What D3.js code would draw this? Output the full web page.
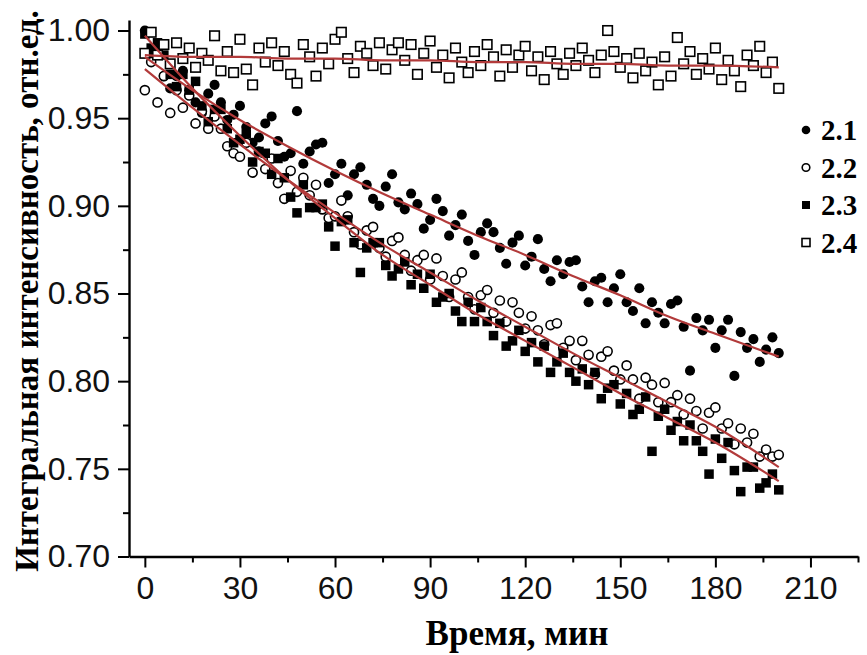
<!doctype html>
<html lang="ru">
<head>
    <meta charset="utf-8">
    <title>Integral intensity vs time</title>
    <script src="https://d3js.org/d3.v7.min.js"></script>
    <style>
        body { margin: 0; background: #fff; }
        .tick text { font-family: "Liberation Sans", Arial, sans-serif; }
    </style>
</head>
<body>
<script>
    // --- Data ---
    const times = [0, 2, 4, 6, 8, 10, 12, 14, 16, 18, 20, 22, 24, 26, 28, 30, 32, 34, 36, 38,
        40, 42, 44, 46, 48, 50, 52, 54, 56, 58, 60, 62, 64, 66, 68, 70, 72, 74, 76, 78,
        80, 82, 84, 86, 88, 90, 92, 94, 96, 98, 100, 102, 104, 106, 108, 110, 112, 114, 116, 118,
        120, 122, 124, 126, 128, 130, 132, 134, 136, 138, 140, 142, 144, 146, 148, 150, 152, 154, 156, 158,
        160, 162, 164, 166, 168, 170, 172, 174, 176, 178, 180, 182, 184, 186, 188, 190, 192, 194, 196, 198, 200];

    const s21 = [1.000, .987, .989, .974, .967, .974, .977, .966, .959, .953,
        .964, .969, .959, .949, .952, .957, .945, .936, .939, .947,
        .951, .937, .928, .930, .954, .924, .931, .935, .936, .913,
        .918, .924, .906, .918, .922, .912, .904, .900, .911, .918,
        .902, .898, .907, .901, .887, .892, .904, .897, .883, .889,
        .895, .880, .872, .885, .890, .885, .876, .867, .879, .883,
        .866, .871, .881, .864, .857, .869, .861, .868, .869, .854,
        .845, .857, .859, .845, .853, .861, .845, .840, .853, .833,
        .845, .839, .833, .844, .846, .831, .806, .836, .829, .835,
        .819, .829, .835, .803, .828, .819, .824, .811, .818, .825, .816];

    const s22 = [.966, .982, .959, .974, .953, .966, .956, .963, .947, .954,
        .944, .951, .944, .934, .930, .928, .936, .919, .931, .921,
        .927, .913, .904, .920, .908, .916, .906, .912, .898, .893,
        .894, .903, .894, .885, .878, .886, .888, .876, .871, .880,
        .882, .872, .863, .869, .872, .858, .870, .860, .848, .858,
        .862, .848, .841, .849, .852, .839, .846, .834, .845, .839,
        .830, .837, .829, .821, .832, .833, .819, .823, .812, .823,
        .815, .804, .814, .817, .806, .801, .809, .801, .790, .802,
        .798, .788, .799, .788, .792, .781, .790, .783, .773, .782,
        .785, .773, .776, .764, .773, .765, .770, .757, .761, .757, .758];

    const s23 = [.998, .990, .993, .986, .975, .968, .975, .966, .971, .957,
        .948, .955, .955, .944, .936, .938, .941, .925, .931, .930,
        .918, .927, .916, .905, .896, .912, .899, .899, .901, .888,
        .877, .891, .892, .879, .862, .876, .879, .879, .866, .860,
        .864, .868, .855, .861, .853, .861, .845, .848, .850, .840,
        .834, .845, .834, .842, .834, .826, .833, .820, .823, .829,
        .817, .822, .811, .820, .805, .811, .816, .805, .800, .807,
        .798, .805, .790, .796, .798, .787, .793, .781, .784, .791,
        .760, .780, .784, .772, .777, .766, .775, .766, .760, .747,
        .767, .756, .765, .749, .737, .751, .751, .739, .742, .747, .738];

    const s24 = [.987, .999, .986, .992, .981, .993, .984, .990, .979, .987,
        .983, .997, .977, .988, .976, .995, .978, .969, .990, .982,
        .993, .980, .988, .975, .970, .992, .985, .974, .990, .981,
        .995, .999, .984, .976, .991, .987, .980, .993, .978, .989,
        .993, .983, .992, .975, .987, .994, .979, .986, .973, .990,
        .982, .976, .988, .980, .992, .985, .974, .989, .979, .986,
        .991, .977, .985, .972, .988, .981, .975, .987, .980, .990,
        .983, .976, .986, 1.000, .988, .979, .984, .973, .987, .977,
        .982, .969, .985, .974, .996, .981, .988, .975, .984, .978,
        .990, .972, .983, .977, .968, .986, .980, .991, .976, .982, .967];

    // fitted curves, sampled at these times
    const fitTimes = [0, 15, 30, 45, 60, 75, 90, 105, 120, 135, 150, 165, 180, 200];
    const fit21 = [.985, .966, .949, .934, .920, .907, .895, .883, .872, .860, .849, .837, .827, .814];
    const fit22 = [.978, .956, .935, .915, .896, .878, .862, .846, .831, .816, .802, .788, .774, .751];
    const fit23 = [.997, .967, .940, .915, .893, .872, .855, .838, .823, .808, .793, .779, .765, .743];
    const fit24 = [.986, .985, .985, .984, .984, .983, .983, .982, .982, .981, .981, .980, .980, .979];

    const seriesNames = ["2.1", "2.2", "2.3", "2.4"];
    const xTicks = [0, 30, 60, 90, 120, 150, 180, 210];
    const yTicks = [0.70, 0.75, 0.80, 0.85, 0.90, 0.95, 1.00];

    // --- Setup ---
    const width = 867, height = 655;
    const svg = d3.select("body").append("svg")
        .attr("width", width)
        .attr("height", height);

    const x = d3.scaleLinear().domain([-5, 225]).range([129, 858]);
    const y = d3.scaleLinear().domain([0.70, 1.006]).range([556.5, 20]);

    const series = [
        { name: seriesNames[0], values: s21, shape: "circle", filled: true },
        { name: seriesNames[1], values: s22, shape: "circle", filled: false },
        { name: seriesNames[2], values: s23, shape: "square", filled: true },
        { name: seriesNames[3], values: s24, shape: "square", filled: false }
    ];

    function drawMarker(g, shape, filled, size) {
        if (shape === "circle") {
            g.append("circle")
                .attr("r", filled ? size / 2 + 0.3 : size / 2 - 0.2)
                .attr("fill", filled ? "#000" : "#fff")
                .attr("stroke", "#000")
                .attr("stroke-width", filled ? 0 : 1.6);
        } else {
            g.append("rect")
                .attr("x", -size / 2).attr("y", -size / 2)
                .attr("width", size).attr("height", size)
                .attr("fill", filled ? "#000" : "#fff")
                .attr("stroke", "#000")
                .attr("stroke-width", filled ? 0 : 1.6);
        }
    }

    // --- Points ---
    series.forEach(s => {
        const pts = svg.append("g").selectAll("g")
            .data(times.map((t, i) => ({ t: t, v: s.values[i] })))
            .join("g")
            .attr("transform", d => `translate(${x(d.t)},${y(d.v)})`);
        pts.each(function() { drawMarker(d3.select(this), s.shape, s.filled, 9.5); });
    });

    // --- Fit lines ---
    const line = d3.line()
        .x((d, i) => x(fitTimes[i]))
        .y(d => y(d))
        .curve(d3.curveMonotoneX);

    [fit21, fit22, fit23, fit24].forEach(f => {
        svg.append("path")
            .datum(f)
            .attr("fill", "none")
            .attr("stroke", "#b23a3a")
            .attr("stroke-width", 2.2)
            .attr("d", line);
    });

    // --- Axes ---
    const xAxis = svg.append("g")
        .attr("transform", `translate(0,${y(0.70)})`)
        .call(d3.axisBottom(x).tickValues(xTicks).tickSize(11).tickSizeOuter(0).tickPadding(9)
            .tickFormat(d3.format("d")));
    xAxis.select(".domain").attr("stroke-width", 2.4);
    xAxis.selectAll(".tick line").attr("stroke-width", 2);
    xAxis.selectAll(".tick text").attr("font-size", 32).attr("fill", "#111");

    svg.append("g")
        .attr("transform", `translate(0,${y(0.70)})`)
        .call(d3.axisBottom(x).tickValues([15, 45, 75, 105, 135, 165, 195, 225]).tickSize(6).tickSizeOuter(0).tickFormat(""))
        .call(g => g.select(".domain").remove())
        .selectAll(".tick line").attr("stroke-width", 2);

    const yAxis = svg.append("g")
        .attr("transform", `translate(${x(-5)},0)`)
        .call(d3.axisLeft(y).tickValues(yTicks).tickSize(11).tickSizeOuter(0).tickPadding(8)
            .tickFormat(d3.format(".2f")));
    yAxis.select(".domain").attr("stroke-width", 2.4);
    yAxis.selectAll(".tick line").attr("stroke-width", 2);
    yAxis.selectAll(".tick text").attr("font-size", 32).attr("fill", "#111");

    svg.append("g")
        .attr("transform", `translate(${x(-5)},0)`)
        .call(d3.axisLeft(y).tickValues([0.725, 0.775, 0.825, 0.875, 0.925, 0.975]).tickSize(6).tickFormat(""))
        .call(g => g.select(".domain").remove())
        .selectAll(".tick line").attr("stroke-width", 2);

    // --- Axis titles ---
    svg.append("text")
        .attr("x", 517).attr("y", 645)
        .attr("text-anchor", "middle")
        .attr("font-family", "'Liberation Serif', 'Times New Roman', serif")
        .attr("font-weight", "bold")
        .attr("font-size", 35)
        .text("Время, мин");

    svg.append("text")
        .attr("transform", "translate(38,291) rotate(-90)")
        .attr("text-anchor", "middle")
        .attr("font-family", "'Liberation Serif', 'Times New Roman', serif")
        .attr("font-weight", "bold")
        .attr("font-size", 33)
        .text("Интегральная интенсивность, отн.ед.");

    // --- Legend ---
    const legend = svg.append("g");
    series.forEach((s, i) => {
        const row = legend.append("g").attr("transform", `translate(806,${130 + i * 37.5})`);
        drawMarker(row, s.shape, s.filled, 8);
        row.append("text")
            .attr("x", 15).attr("y", 10)
            .attr("font-family", "'Liberation Serif', 'Times New Roman', serif")
            .attr("font-weight", "bold")
            .attr("font-size", 29)
            .text(s.name);
    });
</script>
</body>
</html>
